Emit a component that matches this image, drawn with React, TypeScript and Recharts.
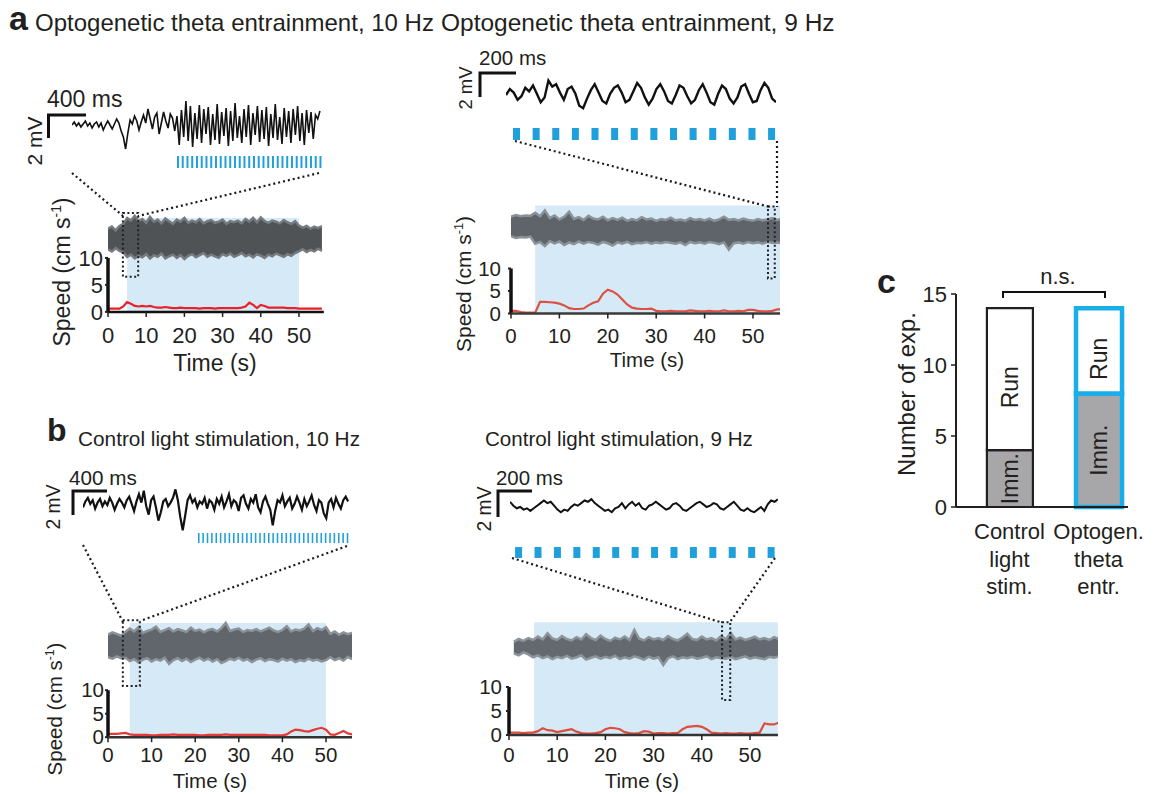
import React from "react";
import {
  ComposedChart,
  LineChart,
  Line,
  Area,
  Bar,
  Cell,
  XAxis,
  YAxis,
  ReferenceArea,
  ReferenceLine,
  LabelList,
} from "recharts";

const FONT = '"Liberation Sans", Arial, Helvetica, sans-serif';
const INK = "#231f20";
const LIGHT = "#d6e9f6";
const PULSE = "#1f9fdc";

// ---- LFP snippets (mV, evenly sampled across the snippet) ----
const lfpA10 = [
  0.0, 0.3, -0.1, 0.2, -0.2, 0.1, 0.4, -0.1, 0.2, -0.3, 0.1, 0.3, -0.2, 0.2, -0.5, 0.0, 0.4, 0.0, -0.4, 0.1, 0.6,
  0.2, -0.6, -1.2, -2.4, -0.8, 0.5, 0.1, 0.9, 0.4, -0.5,
  0.3, 1.0, 0.2, 1.6, 0.6, -0.4, 0.8, 1.2, -0.9, 0.2, 1.3, 0.4, -0.3, 1.1, 0.7, -0.6, 0.9,
  -2.0, 1.5, -1.2, 2.4, -1.6, 1.9, -2.2, 1.2, -1.4, 2.0, -1.8, 1.6, -0.9, 1.8, -2.0, 1.1, -1.5, 2.1, -1.9, 1.3,
  -1.1, 1.7, -2.1, 1.4, -1.6, 2.2, -1.3, 0.9, -1.8, 1.6, -1.2, 2.0, -2.0, 1.2, -1.0, 1.9, -1.7, 1.5, -1.4, 1.8,
  -2.1, 1.1, -1.3, 2.1, -1.5, 0.8, -1.9, 1.7, -1.2, 1.4, -1.8, 1.6, -1.0, 1.9, -1.6, 1.2, -2.0, 1.5, -0.8, 1.3,
  -1.4, 1.0, 0.6, 1.4,
];
const lfpA9 = [
  0.0, 0.5, 0.2, -0.4, -0.1, 0.6, 0.3, 0.8, 0.1, -0.6, -0.2, 1.2, 0.7, 0.9, 0.2, -0.4, 0.5, 0.7, 0.1, -0.9,
  -1.1, -0.3, 0.4, 0.9, 0.2, -0.5, -0.7, 0.1, 0.6, 0.8, 0.2, -0.6, -0.4, 0.3, 1.0, 0.6, -0.2, -0.8, -0.3, 0.5,
  0.9, 0.3, -0.5, -0.7, 0.0, 0.8, 0.6, -0.1, -0.7, -0.4, 0.4, 0.9, 0.2, -0.6, -0.8, 0.1, 0.8, 0.5, -0.3, -0.7,
  -0.2, 0.7, 0.9, 0.1, -0.6, -0.5, 0.4, 1.0, 0.6, -0.3, -0.6,
];
const lfpB10 = [
  -0.2, 0.3, 0.6, 0.1, 0.4, -0.3, 0.2, 0.5, -0.1, 0.3, 0.0, 0.6, 0.2, -0.4, 0.1, 0.5, 0.2, -0.2, 0.4, 0.7,
  0.1, -0.5, 0.3, 0.9, 0.2, 1.2, -0.1, -0.8, 0.4, 0.7, -0.2, -1.3, -0.6, 0.3, 0.5, -0.1, 0.2, 0.6, 1.3, 0.4,
  -1.0, -2.1, -0.9, 0.4, 0.8, 0.2, 0.5, -0.2, 0.3, 0.1, 0.6, -0.3, 0.4, 0.2, -0.4, 0.5, 0.1, 0.7, -0.2, 0.3,
  0.9, -0.1, 0.4, 0.2, -0.5, 0.6, 0.8, 0.1, -0.3, 0.5, 0.2, 0.9, -0.2, -0.6, 0.3, 0.7, 0.1, -0.4, -1.7, -0.5,
  0.4, 0.2, 0.8, -0.1, 0.3, 0.6, -0.3, 0.1, 0.7, 0.2, -0.4, 0.5, -0.1, 0.3, 0.8, 0.0, -0.5, 0.4, 0.2, -0.7,
  -1.1, 0.2, 0.5, -0.2, 0.6, 0.1, -0.3, 0.4, 0.7, 0.3,
];
const lfpB9 = [
  0.4, 0.1, -0.1, 0.0, -0.2, -0.1, -0.3, -0.1, 0.1, 0.3, 0.5, 0.3, 0.4, 0.1, -0.2, -0.4, -0.2, -0.3, 0.0, 0.2,
  0.1, 0.3, 0.5, 0.4, 0.6, 0.3, 0.1, -0.1, -0.3, -0.2, -0.4, -0.1, 0.0, 0.3, -0.1, 0.2, 0.4, 0.1, 0.3, -0.1,
  -0.2, 0.1, 0.2, 0.4, 0.2, 0.0, -0.2, -0.1, 0.2, 0.3, 0.1, -0.2, -0.3, -0.1, 0.1, 0.3, 0.4, 0.2, 0.0, 0.1,
  0.3, 0.2, -0.1, -0.2, 0.0, 0.2, 0.4, 0.1, -0.2, -0.3, -0.1, -0.3, -0.4, -0.2, 0.0, -0.3, 0.2, 0.5, 0.4, 0.6,
];

// ---- light pulse onsets (ms, on the snippet's time axis) ----
const pulsesA10 = [
  1105, 1155, 1205, 1255, 1305, 1355, 1405, 1455, 1505, 1555, 1605, 1655, 1705, 1755, 1805, 1855,
  1905, 1955, 2005, 2055, 2105, 2155, 2205, 2255, 2305, 2355, 2405, 2455, 2505, 2555, 2605,
];
const pulsesA9 = [39, 148, 257, 366, 475, 584, 693, 802, 911, 1020, 1129, 1238, 1347, 1456];
const pulsesB10 = [
  1314, 1364, 1414, 1464, 1514, 1564, 1614, 1664, 1714, 1764, 1814, 1864, 1914, 1964, 2014, 2064, 2114, 2164,
  2214, 2264, 2314, 2364, 2414, 2464, 2514, 2564, 2614, 2664, 2714, 2764, 2814, 2864, 2914, 2964, 3014,
];
const pulsesB9 = [29, 140, 251, 362, 473, 584, 695, 806, 917, 1028, 1139, 1250, 1361, 1472];

// ---- running speed, one value per second (cm/s) ----
const speedA10 = [
  0.6, 0.6, 0.6, 0.6, 1.0, 1.8, 1.5, 1.1, 1.0, 1.1, 1.0, 1.1, 0.9, 0.8, 0.8, 0.9, 0.8, 0.7, 0.7, 0.8,
  0.7, 0.7, 0.7, 0.7, 0.6, 0.7, 0.7, 0.7, 0.6, 0.7, 0.7, 0.7, 0.7, 0.7, 0.7, 0.8, 1.0, 1.7, 1.3, 0.7,
  1.3, 1.1, 0.8, 0.8, 0.8, 0.8, 0.8, 0.7, 0.7, 0.7, 0.6, 0.6, 0.6, 0.6, 0.6, 0.6, 0.6,
];
const speedA9 = [
  0.6, 0.6, 0.3, 0.2, 0.2, 0.2, 2.6, 2.6, 2.5, 2.4, 2.2, 1.8, 1.2, 1.0, 1.0, 1.1, 1.8, 2.4, 2.7, 4.4,
  5.3, 4.9, 4.2, 3.1, 2.0, 1.3, 1.1, 1.0, 1.0, 1.1, 0.6, 0.5, 0.5, 0.6, 0.5, 0.5, 0.5, 0.7, 0.6, 0.5,
  0.5, 0.6, 0.5, 0.5, 0.7, 0.5, 0.5, 0.6, 0.5, 0.8, 0.8, 0.6, 0.5, 0.5, 0.6, 0.9, 0.9,
];
const speedB10 = [
  0.7, 0.7, 0.7, 0.8, 0.9, 0.6, 0.5, 0.5, 0.5, 0.5, 0.4, 0.4, 0.5, 0.5, 0.5, 0.6, 0.5, 0.5, 0.5, 0.5,
  0.5, 0.4, 0.4, 0.5, 0.5, 0.5, 0.5, 0.6, 0.5, 0.5, 0.5, 0.5, 0.5, 0.5, 0.5, 0.5, 0.5, 0.4, 0.4, 0.4,
  0.4, 0.6, 1.2, 1.6, 1.5, 1.3, 1.2, 1.5, 1.8, 2.0, 1.6, 0.6, 0.5, 0.9, 1.3, 0.8, 0.6,
];
const speedB9 = [
  0.5, 0.5, 0.5, 0.4, 0.5, 0.5, 0.8, 1.4, 1.0, 0.9, 0.6, 0.8, 1.0, 1.2, 0.7, 0.4, 0.3, 0.3, 0.4, 0.6,
  1.2, 1.5, 1.4, 1.2, 0.6, 0.4, 0.3, 0.4, 0.8, 0.7, 0.3, 0.4, 0.4, 0.3, 0.4, 0.4, 1.2, 1.7, 1.8, 1.9,
  1.7, 1.2, 0.5, 0.4, 0.3, 0.4, 0.3, 0.3, 0.4, 0.3, 0.3, 0.4, 0.5, 2.4, 2.2, 2.2, 2.6,
];

// ---- raw LFP envelope over the whole session (plotted above the speed axis) ----
const bandHiA10 = [
  15.4, 15.8, 15.1, 15.9, 16.3, 17.4, 16.9, 17.8, 16.8, 17.2, 16.5, 17.6, 16.7, 17.1, 16.4, 17.3, 16.8, 16.3, 17.1, 16.7,
  17.4, 16.5, 16.9, 16.6, 17.2, 16.4, 16.8, 17.0, 16.5, 16.7, 17.1, 16.3, 16.8, 16.6, 16.9, 16.4, 17.2, 16.7, 17.4, 16.6,
  17.5, 16.8, 16.5, 16.9, 16.7, 16.4, 17.0, 16.6, 16.3, 16.8, 16.0, 15.6, 15.9, 15.4, 15.8, 15.5, 15.9,
];
const bandLoA10 = [
  11.6, 11.2, 11.8, 11.3, 11.0, 10.2, 10.6, 9.9, 10.4, 10.1, 10.7, 9.9, 10.5, 10.2, 10.8, 9.9, 10.3, 10.6, 10.0, 10.5,
  9.8, 10.4, 10.7, 10.1, 10.5, 10.9, 10.2, 10.6, 10.3, 10.0, 10.7, 10.4, 10.8, 10.2, 10.5, 10.9, 10.3, 10.6, 10.1, 10.7,
  10.4, 10.0, 10.6, 10.3, 10.8, 10.5, 10.2, 10.7, 10.4, 10.9, 11.2, 11.6, 11.1, 11.5, 11.2, 11.7, 11.3,
];
const bandHiA9 = [
  21.5, 21.9, 21.6, 21.8, 21.7, 22.4, 21.6, 22.9, 21.2, 21.8, 20.9, 21.5, 22.6, 21.0, 21.4, 20.8, 21.7, 21.1, 20.9, 21.5,
  20.7, 21.2, 20.8, 21.3, 20.6, 21.0, 20.7, 21.4, 20.9, 21.1, 20.6, 21.0, 20.8, 21.3, 20.7, 20.9, 20.6, 21.2, 20.8, 21.0,
  20.7, 21.1, 20.6, 20.9, 21.5, 20.8, 21.0, 20.7, 21.1, 20.8, 20.6, 21.0, 20.7, 20.9, 21.2, 20.8, 21.0,
];
const bandLoA9 = [
  17.2, 16.8, 17.0, 16.9, 17.1, 15.5, 15.9, 15.0, 16.1, 15.6, 16.0, 15.2, 15.8, 15.4, 16.0, 15.5, 15.9, 15.7, 15.3, 15.9,
  15.6, 15.1, 15.8, 15.5, 15.9, 15.4, 15.7, 15.6, 15.9, 15.5, 15.8, 15.6, 15.9, 15.7, 15.5, 15.8, 15.2, 15.9, 15.6, 15.8,
  15.5, 15.9, 15.7, 15.4, 15.8, 14.2, 15.6, 15.8, 15.5, 15.9, 15.6, 15.8, 15.5, 15.9, 15.7, 15.8, 15.6,
];
const bandHiB10 = [
  21.8, 22.3, 22.0, 21.6, 22.4, 23.1, 22.5, 23.4, 22.2, 22.6, 22.9, 23.5, 22.4, 22.8, 23.2, 22.5, 23.0, 22.7, 22.4, 23.3,
  22.6, 22.9, 22.3, 22.8, 23.0, 22.5, 23.2, 24.3, 22.6, 22.9, 23.1, 22.4, 22.8, 22.6, 23.0, 22.5, 22.9, 23.3, 22.7, 22.4,
  22.8, 23.6, 22.5, 22.9, 22.7, 23.1, 24.0, 22.6, 23.2, 22.8, 23.4, 22.0, 22.5, 21.8, 22.3, 21.9, 22.2,
];
const bandLoB10 = [
  17.0, 16.7, 17.2, 16.8, 16.9, 16.2, 16.6, 15.9, 16.5, 16.8, 16.1, 16.6, 16.3, 16.9, 15.6, 16.4, 16.8, 16.2, 16.7, 16.0,
  16.5, 16.9, 16.3, 16.7, 16.1, 16.6, 15.8, 16.2, 16.7, 16.4, 16.9, 16.3, 16.6, 16.0, 16.5, 16.8, 16.2, 16.6, 16.4, 16.1,
  16.7, 16.3, 16.6, 16.0, 16.4, 16.2, 16.7, 16.3, 16.5, 16.1, 16.4, 17.0, 16.4, 16.8, 16.3, 17.1, 16.6,
];
const bandHiB9 = [
  19.4, 20.0, 19.6, 20.2, 19.8, 20.5, 19.9, 21.2, 20.1, 19.8, 20.6, 20.0, 19.7, 20.4, 19.9, 21.0, 20.2, 19.8, 20.7, 20.0,
  19.6, 20.3, 19.9, 20.5, 19.8, 21.9, 20.1, 19.7, 20.4, 19.9, 20.2, 19.8, 20.6, 20.0, 19.7, 20.3, 21.1, 20.0, 19.8, 20.5,
  19.9, 20.2, 19.7, 20.6, 20.0, 21.3, 19.9, 20.3, 19.8, 20.1, 20.5, 19.9, 20.2, 19.8, 20.4, 20.0,
];
const bandLoB9 = [
  17.0, 16.6, 17.2, 16.8, 16.2, 16.6, 16.0, 16.4, 15.8, 16.3, 16.0, 16.5, 15.9, 16.2, 16.6, 15.7, 16.1, 16.4, 15.9, 16.3,
  16.0, 16.5, 15.8, 16.2, 15.9, 16.4, 16.1, 15.7, 16.3, 15.9, 16.2, 14.6, 16.0, 16.4, 15.8, 16.2, 16.0, 16.3, 15.9, 16.1,
  16.4, 15.8, 16.2, 16.0, 15.9, 16.3, 15.8, 16.1, 16.4, 15.9, 16.2, 16.0, 15.8, 16.3, 16.1, 16.4,
];

const timeTicks = [0, 10, 20, 30, 40, 50];
const speedTicks = [0, 5, 10];

// ---- panel c ----
const cLabels = [
  ["Control", "light", "stim."],
  ["Optogen.", "theta", "entr."],
];
const cImm = [4, 8];
const cRun = [10, 6];
const countTicks = [0, 5, 10, 15];

type LfpProps = {
  values: number[];
  spanMs: number;
  xMax: number;
  left: number;
  top: number;
  pxPerMs: number;
  pxPerMv: number;
  yMin: number;
  yMax: number;
  pulses: number[];
  pulseW: number;
  pulseY: [number, number];
  stroke: number;
};

function LfpTrace(p: LfpProps) {
  const dt = p.spanMs / (p.values.length - 1);
  const rows = p.values.map((v, i) => ({ t: i * dt, v }));
  const w = p.xMax * p.pxPerMs;
  const h = (p.yMax - p.yMin) * p.pxPerMv;
  return (
    <div style={{ position: "absolute", left: p.left, top: p.top }}>
      <LineChart width={w} height={h} data={rows} margin={{ top: 0, right: 0, bottom: 0, left: 0 }}>
        <XAxis type="number" dataKey="t" domain={[0, p.xMax]} hide allowDataOverflow />
        <YAxis type="number" domain={[p.yMin, p.yMax]} hide allowDataOverflow />
        {p.pulses.map((t) => (
          <ReferenceArea
            key={t}
            x1={t}
            x2={t + p.pulseW}
            y1={p.pulseY[0]}
            y2={p.pulseY[1]}
            fill={PULSE}
            fillOpacity={1}
            stroke="none"
          />
        ))}
        <Line
          dataKey="v"
          type="linear"
          stroke="#111"
          strokeWidth={p.stroke}
          dot={false}
          isAnimationActive={false}
        />
      </LineChart>
    </div>
  );
}

type SpeedProps = {
  x0: number;
  y0: number;
  xMax: number;
  pxPerS: number;
  yTop: number;
  pxPerU: number;
  speed: number[];
  bandHi: number[];
  bandLo: number[];
  bandStart: number;
  bandColor: string;
  bandEdge: string;
  stim: [number, number];
  shadeTop: number;
  zoomBox: [number, number, number, number];
  red: string;
  fs: number;
  xGap: number;
  yGap: number;
  axisColor: string;
};

function SpeedPanel(p: SpeedProps) {
  const YW = 50;
  const XH = 45;
  const plotW = p.xMax * p.pxPerS;
  const plotH = p.yTop * p.pxPerU;
  const bandRows = p.bandHi.map((hi, i) => ({ t: p.bandStart + i, band: [p.bandLo[i], hi] }));
  const speedRows = p.speed.map((v, i) => ({ t: i, v }));
  const tickStyle = { fill: INK, fontSize: p.fs, fontFamily: FONT };
  return (
    <div style={{ position: "absolute", left: p.x0 - YW, top: p.y0 - plotH }}>
      <ComposedChart width={YW + plotW} height={plotH + XH} margin={{ top: 0, right: 0, bottom: 0, left: 0 }}>
        <XAxis
          type="number"
          dataKey="t"
          domain={[0, p.xMax]}
          ticks={timeTicks}
          interval={0}
          allowDataOverflow
          height={XH}
          axisLine={{ stroke: p.axisColor, strokeWidth: 2.5 }}
          tickLine={{ stroke: INK, strokeWidth: 1.5 }}
          tickSize={5}
          tickMargin={p.xGap}
          tick={tickStyle}
        />
        <YAxis
          type="number"
          domain={[0, p.yTop]}
          ticks={speedTicks}
          interval={0}
          allowDataOverflow
          width={YW}
          axisLine={false}
          tickLine={{ stroke: INK, strokeWidth: 2 }}
          tickSize={3}
          tickMargin={p.yGap}
          tick={tickStyle}
        />
        <ReferenceArea
          x1={p.stim[0]}
          x2={p.stim[1]}
          y1={0}
          y2={p.shadeTop}
          fill={LIGHT}
          fillOpacity={1}
          stroke="none"
        />
        <Area
          data={bandRows}
          dataKey="band"
          type="linear"
          stroke={p.bandEdge}
          strokeWidth={2.5}
          strokeLinejoin="miter"
          fill={p.bandColor}
          fillOpacity={1}
          dot={false}
          activeDot={false}
          isAnimationActive={false}
        />
        <Line
          data={speedRows}
          dataKey="v"
          type="linear"
          stroke={p.red}
          strokeWidth={2.2}
          dot={false}
          isAnimationActive={false}
        />
        <ReferenceArea
          x1={p.zoomBox[0]}
          x2={p.zoomBox[1]}
          y1={p.zoomBox[2]}
          y2={p.zoomBox[3]}
          fill="none"
          fillOpacity={0}
          stroke="#222"
          strokeWidth={2}
          strokeDasharray="2 2.5"
        />
        <ReferenceLine
          segment={[
            { x: 0, y: 0 },
            { x: 0, y: 10 },
          ]}
          stroke="#111"
          strokeWidth={3.5}
        />
      </ComposedChart>
    </div>
  );
}

function CategoryTick(props: any) {
  const { x, y, payload } = props;
  const lines = cLabels[payload.value] || [];
  return (
    <text x={x} y={y} textAnchor="middle" fill={INK} fontSize={22} fontFamily={FONT}>
      {lines.map((s, i) => (
        <tspan key={s} x={x} dy={i === 0 ? 32 : 27.5}>
          {s}
        </tspan>
      ))}
    </text>
  );
}

function rotLabel(text: string, shift: number) {
  return (props: any) => {
    const { x, y, width, height } = props;
    const cx = x + width / 2 + 8;
    const cy = y + height / 2 + shift;
    return (
      <text
        x={cx}
        y={cy}
        textAnchor="middle"
        fontSize={23}
        fontFamily={FONT}
        fill={INK}
        transform={`rotate(-90 ${cx} ${cy})`}
      >
        {text}
      </text>
    );
  };
}

function CountChart() {
  const rows = cImm.map((imm, i) => ({ pos: i, imm, run: cRun[i] }));
  const outline = ["#231f20", "#1aaee8"];
  const outlineW = [2.2, 4.5];
  return (
    <div style={{ position: "absolute", left: 896, top: 274 }}>
      <ComposedChart width={262} height={333} data={rows} margin={{ top: 20, right: 30, bottom: 0, left: 0 }}>
        <XAxis
          type="number"
          dataKey="pos"
          domain={[-0.6, 1.33]}
          ticks={[0, 1]}
          interval={0}
          allowDataOverflow
          height={100}
          axisLine={{ stroke: INK, strokeWidth: 2 }}
          tickLine={false}
          tickSize={0}
          tickMargin={0}
          tick={<CategoryTick />}
        />
        <YAxis
          type="number"
          domain={[0, 15]}
          ticks={countTicks}
          interval={0}
          width={60}
          axisLine={{ stroke: INK, strokeWidth: 2 }}
          tickLine={{ stroke: INK, strokeWidth: 1.5 }}
          tickSize={5}
          tickMargin={4}
          tick={{ fill: INK, fontSize: 22, fontFamily: FONT }}
        />
        <Bar dataKey="imm" stackId="s" barSize={46} isAnimationActive={false}>
          {rows.map((r, i) => (
            <Cell key={r.pos} fill="#a7a7a9" stroke={outline[i]} strokeWidth={outlineW[i]} />
          ))}
          <LabelList content={rotLabel("Imm.", 0)} />
        </Bar>
        <Bar dataKey="run" stackId="s" barSize={46} isAnimationActive={false}>
          {rows.map((r, i) => (
            <Cell key={r.pos} fill="#ffffff" stroke={outline[i]} strokeWidth={outlineW[i]} />
          ))}
          <LabelList content={rotLabel("Run", 8)} />
        </Bar>
      </ComposedChart>
    </div>
  );
}

function VText({ x, y, size, children }: { x: number; y: number; size: number; children: React.ReactNode }) {
  return (
    <text x={x} y={y} fontSize={size} textAnchor="middle" fill={INK} transform={`rotate(-90 ${x} ${y})`}>
      {children}
    </text>
  );
}

function SpeedLabel({ x, y, size }: { x: number; y: number; size: number }) {
  return (
    <VText x={x} y={y} size={size}>
      Speed (cm s
      <tspan fontSize={size * 0.6} dy={-size * 0.38}>
        -1
      </tspan>
      <tspan dy={size * 0.38}>)</tspan>
    </VText>
  );
}

function Overlay() {
  const dots = { stroke: "#1a1a1a", strokeWidth: 2.2, strokeDasharray: "2 3", fill: "none" };
  const bar = { stroke: "#111", strokeWidth: 3, fill: "none" };
  return (
    <svg
      width={1157}
      height={796}
      style={{ position: "absolute", left: 0, top: 0, pointerEvents: "none", fontFamily: FONT }}
    >
      {/* panel labels and titles */}
      <text x={9} y={30} fontSize={34} fontWeight="bold" fill={INK}>a</text>
      <text x={35} y={31} fontSize={24} fill={INK}>Optogenetic theta entrainment, 10 Hz</text>
      <text x={441} y={31} fontSize={24.5} fill={INK}>Optogenetic theta entrainment, 9 Hz</text>
      <text x={47} y={441} fontSize={32} fontWeight="bold" fill={INK}>b</text>
      <text x={78} y={446} fontSize={20.8} fill={INK}>Control light stimulation, 10 Hz</text>
      <text x={485} y={446} fontSize={20.6} fill={INK}>Control light stimulation, 9 Hz</text>
      <text x={877} y={293} fontSize={34} fontWeight="bold" fill={INK}>c</text>

      {/* scale bars */}
      <text x={47} y={107} fontSize={23} fill={INK}>400 ms</text>
      <path d="M86 115 H48.5 V138" {...bar} />
      <VText x={42} y={141} size={21}>2 mV</VText>

      <text x={479} y={65} fontSize={20.5} fill={INK}>200 ms</text>
      <path d="M516 73 H480 V97" {...bar} />
      <VText x={472} y={88} size={18.5}>2 mV</VText>

      <text x={69} y={485} fontSize={20.7} fill={INK}>400 ms</text>
      <path d="M107 491 H73 V515" {...bar} />
      <VText x={60} y={507} size={19.3}>2 mV</VText>

      <text x={496} y={485} fontSize={20.4} fill={INK}>200 ms</text>
      <path d="M532 491 H498 V517" {...bar} />
      <VText x={491} y={509} size={19.3}>2 mV</VText>

      {/* zoom connectors */}
      <line x1={72} y1={173} x2={123} y2={216} {...dots} />
      <line x1={319} y1={173} x2={138} y2={216} {...dots} />
      <line x1={515} y1={141} x2={770} y2={207} {...dots} />
      <line x1={777} y1={141} x2={777} y2={207} {...dots} />
      <line x1={83} y1={545} x2={123} y2={622} {...dots} />
      <line x1={347} y1={546} x2={140} y2={621} {...dots} />
      <line x1={512} y1={558} x2={720} y2={622} {...dots} />
      <line x1={775} y1={558} x2={730} y2={622} {...dots} />

      {/* axis titles */}
      <SpeedLabel x={70} y={272} size={23} />
      <text x={215} y={371} fontSize={23} textAnchor="middle" fill={INK}>Time (s)</text>
      <SpeedLabel x={471} y={284} size={21} />
      <text x={647} y={367} fontSize={20.5} textAnchor="middle" fill={INK}>Time (s)</text>
      <SpeedLabel x={62} y={709} size={20.5} />
      <text x={210} y={788} fontSize={20.5} textAnchor="middle" fill={INK}>Time (s)</text>
      <text x={642} y={788} fontSize={20.5} textAnchor="middle" fill={INK}>Time (s)</text>

      {/* panel c annotations */}
      <VText x={915} y={394} size={24}>Number of exp.</VText>
      <path d="M1003 298 V292 H1105 V298" stroke="#111" strokeWidth={2} fill="none" />
      <text x={1058} y={284} fontSize={22} textAnchor="middle" fill={INK}>n.s.</text>
    </svg>
  );
}

export default function App() {
  return (
    <div
      style={{
        position: "absolute",
        left: 0,
        top: 0,
        width: 1157,
        height: 796,
        background: "#fff",
        fontFamily: FONT,
        overflow: "hidden",
      }}
    >
      <LfpTrace
        values={lfpA10}
        spanMs={2610}
        xMax={2640}
        left={72}
        top={95}
        pxPerMs={0.095}
        pxPerMv={10}
        yMin={-4.5}
        yMax={3}
        pulses={pulsesA10}
        pulseW={21}
        pulseY={[-4.3, -3.1]}
        stroke={1.6}
      />
      <LfpTrace
        values={lfpA9}
        spanMs={1500}
        xMax={1500}
        left={506}
        top={65}
        pxPerMs={0.18}
        pxPerMv={12}
        yMin={-4}
        yMax={2.5}
        pulses={pulsesA9}
        pulseW={39}
        pulseY={[-3.75, -2.75]}
        stroke={2.4}
      />
      <LfpTrace
        values={lfpB10}
        spanMs={3030}
        xMax={3040}
        left={83}
        top={475}
        pxPerMs={0.0875}
        pxPerMv={12}
        yMin={-3.5}
        yMax={2.5}
        pulses={pulsesB10}
        pulseW={18}
        pulseY={[-3.17, -2.33]}
        stroke={2.2}
      />
      <LfpTrace
        values={lfpB9}
        spanMs={1531}
        xMax={1531}
        left={510}
        top={481}
        pxPerMs={0.175}
        pxPerMv={13}
        yMin={-4.2}
        yMax={2}
        pulses={pulsesB9}
        pulseW={40}
        pulseY={[-3.92, -3.08]}
        stroke={2}
      />

      <SpeedPanel
        x0={108}
        y0={312}
        xMax={56.5}
        pxPerS={3.82}
        yTop={18.5}
        pxPerU={5.4}
        speed={speedA10}
        bandHi={bandHiA10}
        bandLo={bandLoA10}
        bandStart={0}
        bandColor="#4f5356"
        bandEdge="#767b80"
        stim={[5, 50]}
        shadeTop={17.4}
        zoomBox={[3.9, 7.9, 6.5, 18.3]}
        red="#e8202a"
        fs={22}
        xGap={10}
        yGap={2}
        axisColor="#111"
      />
      <SpeedPanel
        x0={511}
        y0={313}
        xMax={55.6}
        pxPerS={4.84}
        yTop={25}
        pxPerU={4.5}
        speed={speedA9}
        bandHi={bandHiA9}
        bandLo={bandLoA9}
        bandStart={0}
        bandColor="#5e646a"
        bandEdge="#8a9197"
        stim={[5, 55.6]}
        shadeTop={24}
        zoomBox={[53.1, 54.5, 7.8, 23.8]}
        red="#dd5145"
        fs={20.5}
        xGap={10}
        yGap={7}
        axisColor="#3a3a3a"
      />
      <SpeedPanel
        x0={108}
        y0={737}
        xMax={56}
        pxPerS={4.36}
        yTop={26}
        pxPerU={4.7}
        speed={speedB10}
        bandHi={bandHiB10}
        bandLo={bandLoB10}
        bandStart={0}
        bandColor="#60666c"
        bandEdge="#8b9298"
        stim={[5, 50]}
        shadeTop={24.3}
        zoomBox={[3.4, 7.3, 10.9, 24.9]}
        red="#e43a36"
        fs={20.5}
        xGap={5}
        yGap={1}
        axisColor="#333"
      />
      <SpeedPanel
        x0={509}
        y0={735}
        xMax={55.8}
        pxPerS={4.82}
        yTop={25}
        pxPerU={4.8}
        speed={speedB9}
        bandHi={bandHiB9}
        bandLo={bandLoB9}
        bandStart={1}
        bandColor="#63696f"
        bandEdge="#8d949a"
        stim={[5.2, 55.8]}
        shadeTop={23.5}
        zoomBox={[44.2, 45.9, 7.3, 23.5]}
        red="#dc4e40"
        fs={20.5}
        xGap={7}
        yGap={4}
        axisColor="#333"
      />

      <CountChart />
      <Overlay />
    </div>
  );
}
